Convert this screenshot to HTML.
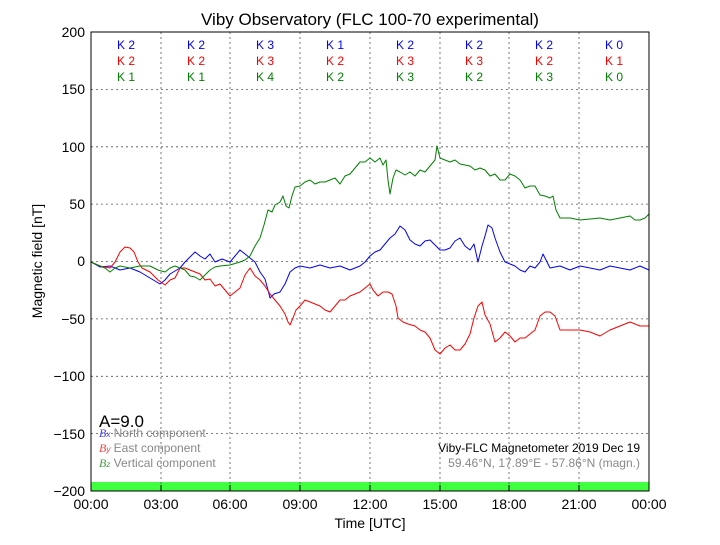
<!DOCTYPE html>
<html><head><meta charset="utf-8"><style>
body{margin:0;background:#fff;width:720px;height:540px;overflow:hidden}
svg text{font-family:"Liberation Sans",sans-serif}
</style></head><body>
<svg width="720" height="540" viewBox="0 0 720 540" xmlns="http://www.w3.org/2000/svg">
<rect x="0" y="0" width="720" height="540" fill="#fff"/>
<text x="370" y="25" font-size="17" text-anchor="middle">Viby Observatory (FLC 100-70 experimental)</text>
<rect x="91" y="482" width="558" height="9" fill="#40ff40"/>
<g stroke="#555" stroke-width="0.8" stroke-dasharray="2,3">
<line x1="161" y1="32" x2="161" y2="491"/><line x1="230" y1="32" x2="230" y2="491"/><line x1="300" y1="32" x2="300" y2="491"/><line x1="370" y1="32" x2="370" y2="491"/><line x1="440" y1="32" x2="440" y2="491"/><line x1="509" y1="32" x2="509" y2="491"/><line x1="579" y1="32" x2="579" y2="491"/>
<line x1="91" y1="89.4" x2="649" y2="89.4"/><line x1="91" y1="146.8" x2="649" y2="146.8"/><line x1="91" y1="204.1" x2="649" y2="204.1"/><line x1="91" y1="261.5" x2="649" y2="261.5"/><line x1="91" y1="318.9" x2="649" y2="318.9"/><line x1="91" y1="376.3" x2="649" y2="376.3"/><line x1="91" y1="433.6" x2="649" y2="433.6"/>
</g>
<g fill="none" stroke-width="1" stroke-linejoin="round">
<polyline stroke="#0000ff" points="91,262 100,267 110,266 120,270 130,268 140,272 150,278 160,284 165,280 170,274 180,268 185,262 190,257 195,252 200,256 205,259 210,254 215,262 222,259 230,262 235,256 240,250 245,254 250,258 255,262 260,272 265,279 268,290 270,298 274,294 280,292 285,284 290,272 295,268 300,266 310,268 320,265 330,268 340,266 350,270 360,266 365,262 370,256 375,252 380,250 385,244 390,238 395,234 400,226 405,230 410,240 415,244 420,246 425,241 430,240 435,245 440,250 445,250 450,248 455,241 460,238 465,246 470,250 474,244 478,262 482,246 485,236 488,225 492,228 495,238 500,252 505,262 510,264 515,266 520,270 525,272 530,266 535,268 540,262 543,254 547,262 550,268 560,266 570,270 580,266 590,268 600,270 610,266 620,268 630,270 640,266 649,270"/>
<polyline stroke="#ff0000" points="91,262 100,266 110,268 115,262 120,252 125,247 130,248 134,252 138,262 142,268 150,272 158,280 165,285 170,280 175,278 180,268 185,268 190,270 200,274 205,280 210,279 215,286 220,284 225,290 230,296 235,292 240,288 245,275 250,268 255,276 260,280 265,286 270,294 275,300 280,306 285,314 288,322 290,325 293,318 296,310 300,306 305,300 310,302 315,304 320,306 325,310 330,312 335,306 340,300 345,300 350,296 355,294 360,292 365,288 370,284 373,290 378,296 383,292 388,292 392,294 396,306 398,318 403,322 408,324 415,326 420,330 425,332 430,338 435,350 440,354 445,348 450,345 455,350 460,350 465,344 470,334 474,318 478,306 482,302 485,315 490,324 495,342 500,338 505,332 510,336 515,342 520,338 525,338 530,334 535,330 540,316 545,312 550,312 555,316 560,330 565,330 570,330 580,330 590,332 600,336 610,330 620,326 630,322 640,326 649,326"/>
<polyline stroke="#008000" points="91,262 100,266 105,268 110,272 115,268 120,266 130,268 140,266 150,266 158,270 165,272 170,268 175,266 180,268 185,270 190,276 195,277 200,280 205,275 210,270 215,267 220,266 230,265 240,262 245,260 250,256 255,246 260,238 264,225 268,210 272,212 275,205 280,202 283,196 286,206 289,208 292,196 295,187 300,186 305,182 310,180 315,184 320,182 325,182 330,180 335,178 340,184 345,176 350,174 355,168 360,162 365,162 370,158 375,162 380,158 383,165 386,160 388,180 390,194 393,178 396,170 400,172 405,175 410,172 415,176 420,170 425,172 430,166 435,160 437,146 440,158 445,160 450,162 455,160 460,164 465,165 470,166 475,170 480,168 485,170 490,176 495,174 500,180 505,180 510,174 515,176 520,180 525,188 530,186 535,186 540,195 545,196 550,198 553,196 556,210 560,218 570,218 580,220 590,219 600,218 610,220 620,218 630,216 635,220 640,220 645,218 649,214"/>
</g>
<rect x="91" y="32" width="558" height="459" fill="none" stroke="#000" stroke-width="1"/>
<g stroke="#000" stroke-width="1">
<line x1="161" y1="491" x2="161" y2="485"/><line x1="230" y1="491" x2="230" y2="485"/><line x1="300" y1="491" x2="300" y2="485"/><line x1="370" y1="491" x2="370" y2="485"/><line x1="440" y1="491" x2="440" y2="485"/><line x1="509" y1="491" x2="509" y2="485"/><line x1="579" y1="491" x2="579" y2="485"/>
</g>
<g font-size="14" text-anchor="end">
<text x="85" y="37">200</text><text x="85" y="94">150</text><text x="85" y="152">100</text><text x="85" y="209">50</text><text x="85" y="266">0</text><text x="85" y="324">−50</text><text x="85" y="381">−100</text><text x="85" y="439">−150</text><text x="85" y="496">−200</text>
</g>
<g font-size="14" text-anchor="middle">
<text x="91" y="509">00:00</text><text x="161" y="509">03:00</text><text x="230" y="509">06:00</text><text x="300" y="509">09:00</text><text x="370" y="509">12:00</text><text x="440" y="509">15:00</text><text x="509" y="509">18:00</text><text x="579" y="509">21:00</text><text x="649" y="509">00:00</text>
<text x="370" y="528">Time [UTC]</text>
</g>
<text transform="translate(42,261) rotate(-90)" font-size="14" text-anchor="middle">Magnetic field [nT]</text>
<g font-size="12" text-anchor="middle">
<g fill="#0000ff"><text x="126" y="49">K 2</text><text x="196" y="49">K 2</text><text x="265" y="49">K 3</text><text x="335" y="49">K 1</text><text x="405" y="49">K 2</text><text x="474" y="49">K 2</text><text x="544" y="49">K 2</text><text x="614" y="49">K 0</text></g>
<g fill="#ff0000"><text x="126" y="65">K 2</text><text x="196" y="65">K 2</text><text x="265" y="65">K 3</text><text x="335" y="65">K 2</text><text x="405" y="65">K 3</text><text x="474" y="65">K 3</text><text x="544" y="65">K 2</text><text x="614" y="65">K 1</text></g>
<g fill="#008000"><text x="126" y="81">K 1</text><text x="196" y="81">K 1</text><text x="265" y="81">K 4</text><text x="335" y="81">K 2</text><text x="405" y="81">K 3</text><text x="474" y="81">K 2</text><text x="544" y="81">K 3</text><text x="614" y="81">K 0</text></g>
</g>
<text x="99" y="427" font-size="17">A=9.0</text>
<g font-size="12" fill="#888">
<text x="99" y="437"><tspan fill="#4040ff" font-style="italic" font-family="Liberation Serif">B</tspan><tspan fill="#4040ff" font-size="8" font-style="italic">x</tspan> North component</text>
<text x="99" y="452"><tspan fill="#ff4040" font-style="italic" font-family="Liberation Serif">B</tspan><tspan fill="#ff4040" font-size="8" font-style="italic">y</tspan> East component</text>
<text x="99" y="467"><tspan fill="#40a040" font-style="italic" font-family="Liberation Serif">B</tspan><tspan fill="#40a040" font-size="8" font-style="italic">z</tspan> Vertical component</text>
</g>
<text x="640" y="452" font-size="12" text-anchor="end">Viby-FLC Magnetometer 2019 Dec 19</text>
<text x="640" y="467" font-size="12" text-anchor="end" fill="#888">59.46°N, 17.89°E - 57.86°N (magn.)</text>
</svg>
</body></html>
